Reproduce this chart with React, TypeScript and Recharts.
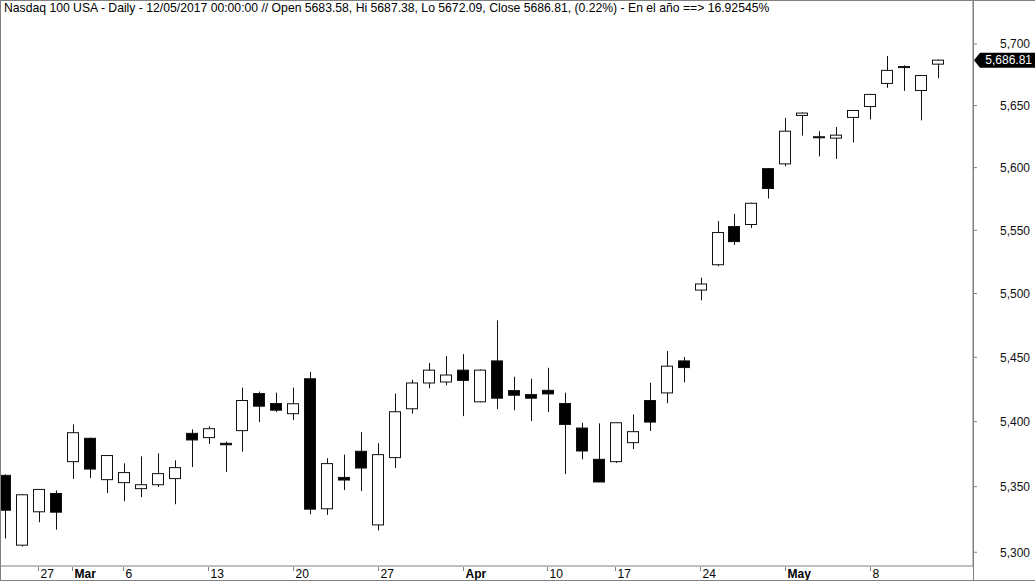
import { ComposedChart, Bar, XAxis, YAxis, ReferenceLine } from 'recharts';

// trading days shown (Feb 23 - May 12, 2017, Good Friday closed)
const dates = [
  '02-23', '02-24', '02-27', '02-28', '03-01', '03-02', '03-03', '03-06', '03-07', '03-08',
  '03-09', '03-10', '03-13', '03-14', '03-15', '03-16', '03-17', '03-20', '03-21', '03-22',
  '03-23', '03-24', '03-27', '03-28', '03-29', '03-30', '03-31', '04-03', '04-04', '04-05',
  '04-06', '04-07', '04-10', '04-11', '04-12', '04-13', '04-17', '04-18', '04-19', '04-20',
  '04-21', '04-24', '04-25', '04-26', '04-27', '04-28', '05-01', '05-02', '05-03', '05-04',
  '05-05', '05-08', '05-09', '05-10', '05-11', '05-12',
];

const opens = [
  5358.7, 5305.4, 5330.8, 5344.8, 5369.2, 5387.2, 5355.4, 5353.1, 5348.5, 5351.5,
  5356.2, 5391.0, 5387.7, 5383.3, 5393.1, 5421.8, 5414.1, 5406.2, 5433.3, 5333.1,
  5357.1, 5377.2, 5320.8, 5372.3, 5410.0, 5430.0, 5430.8, 5440.0, 5415.4, 5447.2,
  5424.1, 5421.0, 5424.3, 5414.1, 5395.1, 5371.0, 5369.2, 5383.8, 5416.4, 5422.3,
  5447.2, 5502.7, 5522.7, 5553.0, 5554.6, 5599.2, 5603.0, 5642.0, 5624.8, 5623.7,
  5640.4, 5649.2, 5667.9, 5681.6, 5662.2, 5683.58,
];
const highs = [
  5359.5, 5344.2, 5348.2, 5347.1, 5397.9, 5387.6, 5374.2, 5367.9, 5373.3, 5375.6,
  5370.2, 5394.1, 5396.4, 5384.6, 5426.4, 5423.3, 5422.5, 5426.4, 5438.7, 5371.8,
  5374.6, 5392.0, 5383.3, 5421.8, 5432.5, 5445.6, 5451.0, 5452.5, 5440.6, 5478.9,
  5434.9, 5433.3, 5441.8, 5422.5, 5399.2, 5398.7, 5399.3, 5405.6, 5430.2, 5454.9,
  5450.2, 5512.5, 5557.3, 5562.9, 5572.0, 5599.5, 5639.9, 5644.5, 5629.3, 5632.7,
  5646.2, 5659.2, 5690.2, 5682.6, 5674.5, 5687.38,
];
const lows = [
  5310.5, 5304.3, 5322.8, 5317.2, 5355.9, 5356.6, 5345.1, 5338.9, 5342.0, 5349.7,
  5336.6, 5365.1, 5382.8, 5361.2, 5376.9, 5399.7, 5407.4, 5401.2, 5328.9, 5328.5,
  5347.4, 5346.6, 5316.6, 5364.3, 5406.2, 5425.9, 5428.2, 5404.3, 5415.0, 5409.7,
  5408.9, 5400.5, 5407.4, 5359.7, 5371.0, 5353.5, 5368.2, 5378.9, 5392.8, 5414.3,
  5430.5, 5494.6, 5521.5, 5538.3, 5551.9, 5575.3, 5601.1, 5625.8, 5609.0, 5607.0,
  5620.2, 5638.8, 5664.3, 5661.9, 5638.0, 5672.09,
];
const closes = [
  5332.0, 5343.8, 5347.9, 5330.5, 5391.5, 5363.5, 5373.9, 5360.8, 5351.5, 5360.0,
  5364.6, 5385.9, 5394.6, 5382.2, 5416.4, 5412.0, 5408.9, 5413.9, 5332.8, 5367.7,
  5355.1, 5364.3, 5374.6, 5407.7, 5430.0, 5440.0, 5436.2, 5432.0, 5440.0, 5418.2,
  5420.5, 5418.2, 5421.5, 5397.9, 5377.4, 5353.6, 5399.2, 5392.3, 5399.7, 5443.1,
  5442.0, 5507.5, 5548.2, 5541.0, 5571.5, 5583.3, 5629.3, 5643.9, 5624.0, 5626.1,
  5646.0, 5659.0, 5678.5, 5681.0, 5674.3, 5686.81,
];

const tickIdx = [2, 4, 7, 12, 17, 22, 27, 32, 36, 41, 46, 51];
const tickLabels = ['27', 'Mar', '6', '13', '20', '27', 'Apr', '10', '17', '24', 'May', '8'];
const priceTicks = [5300, 5350, 5400, 5450, 5500, 5550, 5600, 5650, 5700];
const lastClose = 5686.81;

const title =
  'Nasdaq 100 USA - Daily - 12/05/2017 00:00:00 // Open 5683.58, Hi 5687.38, Lo 5672.09, Close 5686.81, (0.22%) - En el año ==> 16.92545%';

const data = dates.map((date, i) => ({
  i,
  date,
  open: opens[i],
  high: highs[i],
  low: lows[i],
  close: closes[i],
  range: [lows[i], highs[i]],
}));

const W = 1035;
const H = 581;
const PLOT_BOTTOM = 566;
const FONT = '"Liberation Sans", Arial, sans-serif';
const GRAY = '#808080';

// body/wick drawn inside the high-low bar; open/close placed on the same log scale
const Candle = (props: any) => {
  const { x, y, width, height, payload } = props;
  if (x == null || y == null || !payload) return null;
  const top = Math.min(y, y + height);
  const h = Math.abs(height);
  const lh = Math.log(payload.high);
  const ll = Math.log(payload.low);
  const py = (v: number) => top + ((lh - Math.log(v)) / (lh - ll)) * h;
  const cx = Math.floor(x + width / 2) + 0.5;
  const up = payload.close >= payload.open;
  const yo = py(payload.open);
  const yc = py(payload.close);
  const bt = Math.min(yo, yc);
  const bh = Math.max(Math.abs(yo - yc), 1);
  return (
    <g>
      <line x1={cx} x2={cx} y1={top} y2={top + h} stroke="#111" strokeWidth={1} />
      <rect x={cx - 6} y={bt} width={11} height={bh} fill={up ? '#fff' : '#000'} stroke="#111" strokeWidth={1} />
    </g>
  );
};

const DateTick = (props: any) => {
  const { x, payload } = props;
  const k = tickIdx.indexOf(payload.value);
  if (k < 0) return null;
  const label = tickLabels[k];
  const bold = isNaN(Number(label));
  const tx = Math.floor(x) - 0.5;
  return (
    <g>
      <line x1={tx} x2={tx} y1={PLOT_BOTTOM + 1} y2={PLOT_BOTTOM + 5} stroke={GRAY} />
      <text x={tx + 2} y={PLOT_BOTTOM + 12} fontSize={12} fontFamily={FONT} fontWeight={bold ? 700 : 400} fill="#000">
        {label}
      </text>
    </g>
  );
};

const PriceTick = (props: any) => {
  const { y, payload } = props;
  return (
    <text x={W - 5} y={y} dy="0.36em" textAnchor="end" fontSize={12} fontFamily={FONT} fill="#111">
      {payload.value.toLocaleString('en-US')}
    </text>
  );
};

const PriceTag = (props: any) => {
  const vb = props.viewBox || {};
  const yy = vb.y;
  if (yy == null) return null;
  const x0 = (vb.x ?? 0) + (vb.width ?? 0) + 1;
  return (
    <g>
      <polygon points={`${x0},${yy} ${x0 + 6},${yy - 7.5} ${W},${yy - 7.5} ${W},${yy + 7.5} ${x0 + 6},${yy + 7.5}`} fill="#000" />
      <text x={W - 3} y={yy} dy="0.36em" textAnchor="end" fontSize={12} fontFamily={FONT} fill="#fff">
        {lastClose.toLocaleString('en-US', { minimumFractionDigits: 2 })}
      </text>
    </g>
  );
};

export default function App() {
  return (
    <div style={{ position: 'absolute', left: 0, top: 0, width: W, height: H, background: '#fff', overflow: 'hidden' }}>
      <ComposedChart width={W} height={H} data={data} margin={{ top: 0, right: 0, left: 0, bottom: 0 }}>
        <XAxis
          type="number"
          dataKey="i"
          domain={[-0.35, 57.0]}
          allowDataOverflow
          ticks={tickIdx}
          interval={0}
          height={15}
          tickLine={false}
          tickSize={0}
          axisLine={{ stroke: GRAY }}
          tick={<DateTick />}
        />
        <YAxis
          orientation="right"
          type="number"
          scale="log"
          domain={[5289.6, 5736]}
          allowDataOverflow
          ticks={priceTicks}
          interval={0}
          width={62}
          tickSize={4}
          tickLine={{ stroke: GRAY }}
          axisLine={{ stroke: GRAY }}
          tick={<PriceTick />}
        />
        <Bar dataKey="range" barSize={12} shape={<Candle />} isAnimationActive={false} />
        <ReferenceLine y={lastClose} stroke="none" label={(p: any) => <PriceTag {...p} />} />
      </ComposedChart>
      <div
        style={{
          position: 'absolute', left: 0, top: 0, width: W, height: H, boxSizing: 'border-box',
          borderLeft: `1px solid ${GRAY}`, borderTop: `1px solid ${GRAY}`, borderBottom: `1px solid ${GRAY}`,
          pointerEvents: 'none',
        }}
      />
      <div style={{ position: 'absolute', left: 973, top: 0, width: 1, height: H, background: GRAY }} />
      <div
        style={{
          position: 'absolute', left: 4, top: 1, fontFamily: FONT, fontSize: 12.2, lineHeight: '14px',
          color: '#000', whiteSpace: 'nowrap',
        }}
      >
        {title}
      </div>
    </div>
  );
}
